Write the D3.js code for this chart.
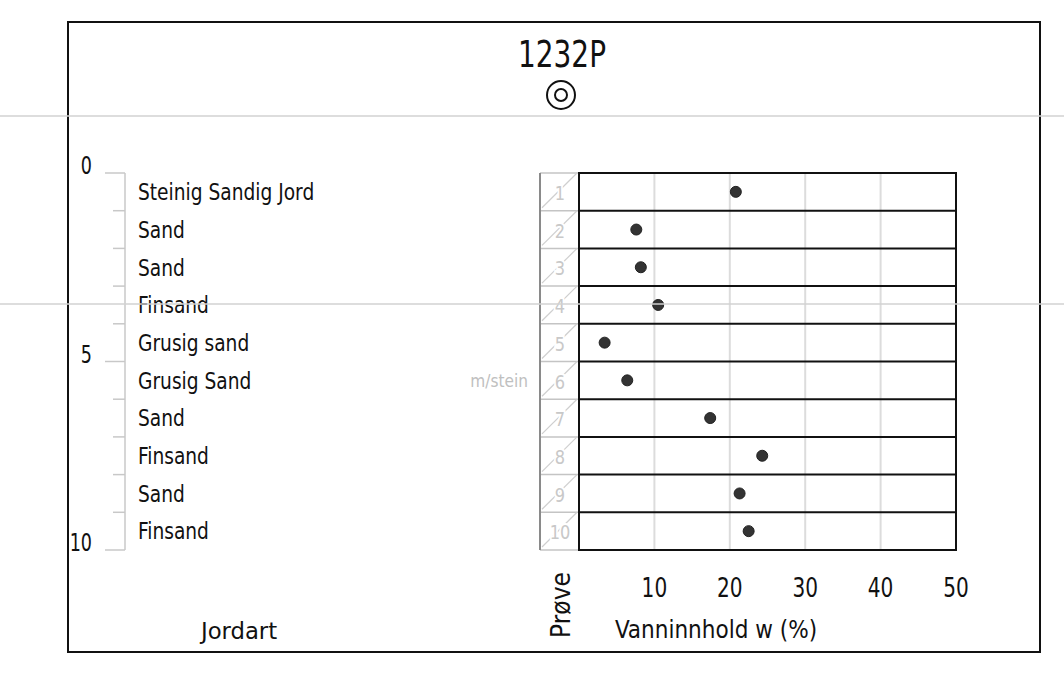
<!DOCTYPE html>
<html><head><meta charset="utf-8">
<script src="https://cdn.jsdelivr.net/npm/d3@7"></script>
<style>
html,body{margin:0;padding:0;background:#fff;}
svg text{font-family:"Liberation Sans Narrow","DejaVu Sans Condensed","Liberation Sans",sans-serif;}
</style></head>
<body>
<svg id="c" width="1064" height="684"></svg>
<script>
const title = "1232P";
const layerNames = ["Steinig Sandig Jord","Sand","Sand","Finsand","Grusig sand","Grusig Sand","Sand","Finsand","Sand","Finsand"];
const layerTop = [0,1,2,3,4,5,6,7,8,9];
const layerBottom = [1,2,3,4,5,6,7,8,9,10];
const sampleNo = [1,2,3,4,5,6,7,8,9,10];
const waterContent = [20.8,7.6,8.2,10.5,3.4,6.4,17.4,24.3,21.3,22.5];
const depthTicks = [0,5,10];
const xTicks = [10,20,30,40,50];
const stoneNote = "m/stein";

const svg = d3.select("#c");
const y = d3.scaleLinear().domain([0,10]).range([173,550]);
const x = d3.scaleLinear().domain([0,50]).range([579,956]);
const mid = i => (y(layerTop[i]) + y(layerBottom[i])) / 2;
const tr = (px, py, sx) => `translate(${px},${py}) scale(${sx},1)`;

// outer frame
svg.append("rect").attr("x",68).attr("y",22).attr("width",972).attr("height",630)
  .attr("fill","none").attr("stroke","#111").attr("stroke-width",2);

// title + symbol
svg.append("text").attr("transform",tr(562,67,0.84)).attr("text-anchor","middle")
  .attr("font-size",37).attr("fill","#111").text(title);
svg.append("circle").attr("cx",561).attr("cy",95).attr("r",14).attr("fill","none").attr("stroke","#111").attr("stroke-width",2);
svg.append("circle").attr("cx",561).attr("cy",95).attr("r",6).attr("fill","none").attr("stroke","#111").attr("stroke-width",2);

// depth axis
const gA = svg.append("g");
gA.append("line").attr("x1",125).attr("x2",125).attr("y1",y(0)).attr("y2",y(10)).attr("stroke","#c8c8c8").attr("stroke-width",1.5);
const allBounds = Array.from(new Set(layerTop.concat(layerBottom)));
gA.selectAll("line.t").data(allBounds).join("line")
  .attr("x1",d=>depthTicks.includes(d)?105:113).attr("x2",125)
  .attr("y1",d=>y(d)).attr("y2",d=>y(d)).attr("stroke","#c8c8c8").attr("stroke-width",1.5);
gA.selectAll("text").data(depthTicks).join("text")
  .attr("transform",d=>tr(92,y(d)+1,0.78)).attr("text-anchor","end")
  .attr("font-size",25).attr("fill","#111").text(d=>d);

// soil labels
svg.selectAll("text.soil").data(layerNames).join("text").attr("class","soil")
  .attr("transform",(d,i)=>tr(138,mid(i),0.9))
  .attr("dy","0.36em").attr("font-size",23).attr("fill","#111").text(d=>d);
svg.append("text").attr("transform",tr(239,631,1.1)).attr("dy","0.36em").attr("text-anchor","middle")
  .attr("font-size",23).attr("fill","#111").text("Jordart");

// sample column
const gS = svg.append("g");
gS.selectAll("line.h").data(allBounds).join("line")
  .attr("x1",540).attr("x2",579).attr("y1",d=>y(d)).attr("y2",d=>y(d)).attr("stroke","#c4c4c4").attr("stroke-width",1.5);
gS.selectAll("line.d").data(sampleNo).join("line")
  .attr("x1",542).attr("y1",(d,i)=>y(layerBottom[i])-3).attr("x2",577).attr("y2",(d,i)=>y(layerTop[i]))
  .attr("stroke","#cfcfcf").attr("stroke-width",1.2);
gS.selectAll("text").data(sampleNo).join("text")
  .attr("transform",(d,i)=>tr(560,mid(i)+1,0.9))
  .attr("dy","0.36em").attr("text-anchor","middle").attr("font-size",20)
  .attr("fill","#c8c8c8").attr("stroke","#fff").attr("stroke-width",4).attr("paint-order","stroke").text(d=>d);
gS.append("line").attr("x1",540).attr("x2",540).attr("y1",y(0)).attr("y2",y(10)).attr("stroke","#8a8a8a").attr("stroke-width",2);
svg.append("text").attr("transform",tr(528,mid(5),0.95)).attr("dy","0.36em").attr("text-anchor","end")
  .attr("font-size",18).attr("fill","#c0c0c0").text(stoneNote);

// plot grid
const gP = svg.append("g");
gP.selectAll("line.v").data(xTicks.filter(d=>d<50)).join("line")
  .attr("x1",d=>x(d)).attr("x2",d=>x(d)).attr("y1",y(0)).attr("y2",y(10)).attr("stroke","#dcdcdc").attr("stroke-width",2);
gP.selectAll("line.h").data(allBounds).join("line")
  .attr("x1",x(0)).attr("x2",x(50)).attr("y1",d=>y(d)).attr("y2",d=>y(d)).attr("stroke","#111").attr("stroke-width",2);
gP.append("line").attr("x1",x(0)).attr("x2",x(0)).attr("y1",y(0)-1).attr("y2",y(10)+1).attr("stroke","#111").attr("stroke-width",2);
gP.append("line").attr("x1",x(50)).attr("x2",x(50)).attr("y1",y(0)-1).attr("y2",y(10)+1).attr("stroke","#111").attr("stroke-width",2);

// points
gP.selectAll("circle").data(waterContent).join("circle")
  .attr("cx",d=>x(d)).attr("cy",(d,i)=>mid(i))
  .attr("r",5.5).attr("fill","#333").attr("stroke","#222").attr("stroke-width",1);

// x tick labels
svg.selectAll("text.xt").data(xTicks).join("text").attr("class","xt")
  .attr("transform",d=>tr(x(d),588,0.86)).attr("dy","0.36em").attr("text-anchor","middle")
  .attr("font-size",26).attr("fill","#111").text(d=>d);
svg.append("text").attr("transform",tr(716,629,0.96)).attr("dy","0.36em").attr("text-anchor","middle")
  .attr("font-size",25).attr("fill","#111").text("Vanninnhold w (%)");
svg.append("text").attr("transform","translate(561,605) rotate(-90)").attr("dy","0.36em").attr("text-anchor","middle")
  .attr("font-size",26).attr("fill","#111").text("Prøve");

// page guide lines
svg.selectAll("line.g").data([116,304]).join("line")
  .attr("x1",0).attr("x2",1064).attr("y1",d=>d).attr("y2",d=>d).attr("stroke","#d2d2d2").attr("stroke-width",1.5);
</script>
</body></html>
